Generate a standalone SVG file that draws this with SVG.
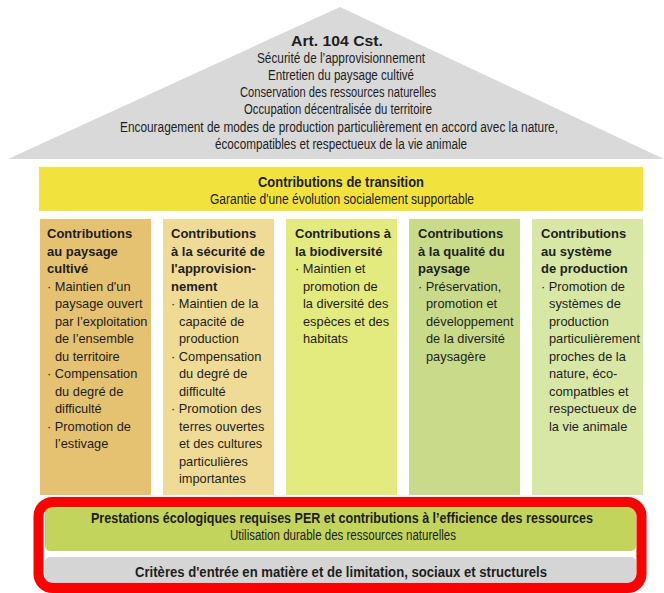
<svg xmlns="http://www.w3.org/2000/svg" width="664" height="593" viewBox="0 0 664 593">
<style>
text{font-family:"Liberation Sans",Arial,sans-serif;fill:#1e1e1e}
.t{font-size:14px;text-anchor:middle}
.b{font-weight:bold}
.c{font-size:12.8px}
.h{font-size:13px;font-weight:bold}
</style>
<rect width="664" height="593" fill="#ffffff"/>
<g id="roof">
<polygon points="8,159 340,7 664,159" fill="#d9d9d9"/>
<text class="t b" x="337" y="46" style="font-size:15.5px" textLength="92" lengthAdjust="spacingAndGlyphs">Art. 104 Cst.</text>
<text class="t" x="341" y="62.5" textLength="168" lengthAdjust="spacingAndGlyphs">Sécurité de l’approvisionnement</text>
<text class="t" x="341" y="79.5" textLength="146" lengthAdjust="spacingAndGlyphs">Entretien du paysage cultivé</text>
<text class="t" x="338" y="96.5" textLength="196" lengthAdjust="spacingAndGlyphs">Conservation des ressources naturelles</text>
<text class="t" x="338" y="113.5" textLength="188" lengthAdjust="spacingAndGlyphs">Occupation décentralisée du territoire</text>
<text class="t" x="339" y="132" textLength="438" lengthAdjust="spacingAndGlyphs">Encouragement de modes de production particulièrement en accord avec la nature,</text>
<text class="t" x="341" y="149" textLength="252" lengthAdjust="spacingAndGlyphs">écocompatibles et respectueux de la vie animale</text>
</g>
<g id="transition">
<rect x="39" y="167" width="604" height="44" fill="#f1e23e"/>
<text class="t b" x="341" y="187" textLength="166" lengthAdjust="spacingAndGlyphs">Contributions de transition</text>
<text class="t" x="342" y="204" textLength="264" lengthAdjust="spacingAndGlyphs">Garantie d'une évolution socialement supportable</text>
</g>
<g id="col1">
<rect x="40" y="219" width="111" height="276" fill="#e5c172"/>
<text class="h" x="47" y="238">Contributions</text>
<text class="h" x="47" y="255.5">au paysage</text>
<text class="h" x="47" y="273">cultivé</text>
<text class="c"><tspan x="47" y="290.5">· Maintien d'un</tspan><tspan x="55" y="308">paysage ouvert</tspan><tspan x="55" y="325.5">par l’exploitation</tspan><tspan x="55" y="343">de l’ensemble</tspan><tspan x="55" y="360.5">du territoire</tspan><tspan x="47" y="378">· Compensation</tspan><tspan x="55" y="395.5">du degré de</tspan><tspan x="55" y="413">difficulté</tspan><tspan x="47" y="430.5">· Promotion de</tspan><tspan x="55" y="448">l’estivage</tspan></text>
</g>
<g id="col2">
<rect x="163" y="219" width="111" height="276" fill="#efdb96"/>
<text class="h" x="171" y="238">Contributions</text>
<text class="h" x="171" y="255.5">à la sécurité de</text>
<text class="h" x="171" y="273">l'approvision-</text>
<text class="h" x="171" y="290.5">nement</text>
<text class="c"><tspan x="171" y="308">· Maintien de la</tspan><tspan x="179" y="325.5">capacité de</tspan><tspan x="179" y="343">production</tspan><tspan x="171" y="360.5">· Compensation</tspan><tspan x="179" y="378">du degré de</tspan><tspan x="179" y="395.5">difficulté</tspan><tspan x="171" y="413">· Promotion des</tspan><tspan x="179" y="430.5">terres ouvertes</tspan><tspan x="179" y="448">et des cultures</tspan><tspan x="179" y="465.5">particulières</tspan><tspan x="179" y="483">importantes</tspan></text>
</g>
<g id="col3">
<rect x="286" y="219" width="111" height="276" fill="#e3ea7e"/>
<text class="h" x="295" y="238">Contributions à</text>
<text class="h" x="295" y="255.5">la biodiversité</text>
<text class="c"><tspan x="295" y="273">· Maintien et</tspan><tspan x="303" y="290.5">promotion de</tspan><tspan x="303" y="308">la diversité des</tspan><tspan x="303" y="325.5">espèces et des</tspan><tspan x="303" y="343">habitats</tspan></text>
</g>
<g id="col4">
<rect x="409" y="219" width="111" height="276" fill="#c9db8a"/>
<text class="h" x="418" y="238">Contributions</text>
<text class="h" x="418" y="255.5">à la qualité du</text>
<text class="h" x="418" y="273">paysage</text>
<text class="c"><tspan x="418" y="290.5">· Préservation,</tspan><tspan x="426" y="308">promotion et</tspan><tspan x="426" y="325.5">développement</tspan><tspan x="426" y="343">de la diversité</tspan><tspan x="426" y="360.5">paysagère</tspan></text>
</g>
<g id="col5">
<rect x="532" y="219" width="111" height="276" fill="#d8e6a6"/>
<text class="h" x="541" y="238">Contributions</text>
<text class="h" x="541" y="255.5">au système</text>
<text class="h" x="541" y="273">de production</text>
<text class="c"><tspan x="541" y="290.5">· Promotion de</tspan><tspan x="549" y="308">systèmes de</tspan><tspan x="549" y="325.5">production</tspan><tspan x="549" y="343">particulièrement</tspan><tspan x="549" y="360.5">proches de la</tspan><tspan x="549" y="378">nature, éco-</tspan><tspan x="549" y="395.5">compatbles et</tspan><tspan x="549" y="413">respectueux de</tspan><tspan x="549" y="430.5">la vie animale</tspan></text>
</g>
<g id="per">
<rect x="45" y="507" width="591" height="44" rx="5" fill="#c3d45c"/>
<text class="t b" x="342" y="523" textLength="502" lengthAdjust="spacingAndGlyphs">Prestations écologiques requises PER et contributions à l’efficience des ressources</text>
<text class="t" x="343" y="540" textLength="226" lengthAdjust="spacingAndGlyphs">Utilisation durable des ressources naturelles</text>
</g>
<g id="criteria">
<rect x="45" y="557" width="591" height="30" rx="5" fill="#d5d5d5"/>
<text class="t b" x="341" y="577" textLength="412" lengthAdjust="spacingAndGlyphs">Critères d'entrée en matière et de limitation, sociaux et structurels</text>
</g>
<g id="highlight">
<rect x="38.5" y="502" width="603" height="86" rx="14" fill="none" stroke="#ff0000" stroke-width="10"/>
</g>
</svg>
